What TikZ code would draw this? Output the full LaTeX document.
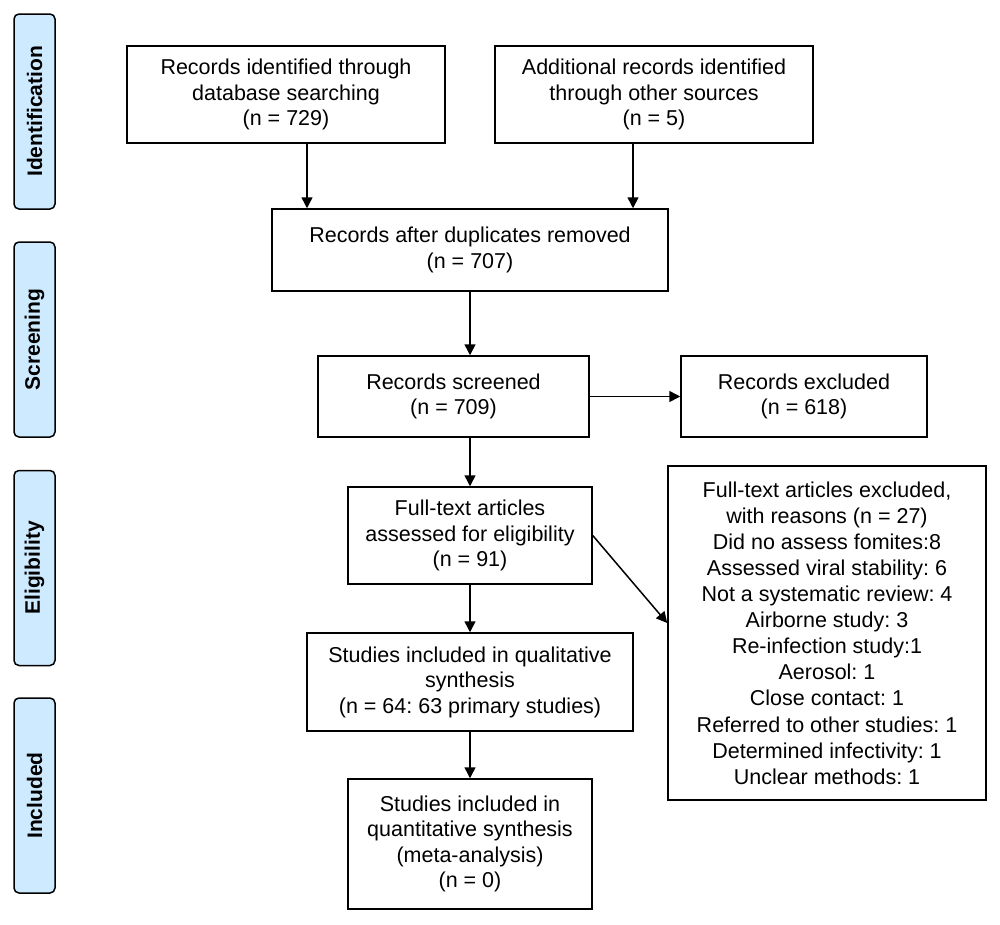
\documentclass[tikz,border=0pt]{standalone}
\usepackage{fontspec}
\setmainfont{Liberation Sans}
\usetikzlibrary{arrows.meta}
\definecolor{phasecol}{RGB}{206,234,255}
\frenchspacing
\begin{document}
\begin{tikzpicture}[x=1pt,y=-1pt,
  box/.style={draw, line width=1.5pt, align=center, inner sep=0pt,
    font=\fontsize{21.5}{25.5}\selectfont},
  phasebox/.style={draw, fill=phasecol, rounded corners=5pt, line width=1.5pt,
    rotate=90, minimum width=195pt, minimum height=41pt, inner sep=0pt,
    font=\fontsize{21}{25}\selectfont\bfseries},
  arr/.style={line width=1.5pt, -{Triangle[length=11pt,width=11pt]}}]
\useasboundingbox (0,0) rectangle (1000,924);

% phase labels
\node[phasebox] (p1) at (34.5,111.5) {Identification};
\node[phasebox] (p2) at (34.5,339.5) {Screening};
\node[phasebox] (p3) at (34.5,568) {Eligibility};
\node[phasebox] (p4) at (34.5,795.5) {Included};

% boxes
\node[box, minimum width=318pt, minimum height=97pt] (b1) at (286,94.5)
  {Records identified through\\database searching\\(n = 729)};
\node[box, minimum width=318pt, minimum height=97pt] (b2) at (654,94.5)
  {Additional records identified\\through other sources\\(n = 5)};
\node[box, minimum width=396pt, minimum height=82pt] (b3) at (470,250)
  {Records after duplicates removed\\(n = 707)};
\node[box, minimum width=271pt, minimum height=81pt] (b4) at (453.5,396.5)
  {Records screened\\(n = 709)};
\node[box, minimum width=246pt, minimum height=81pt] (b5) at (804,396.5)
  {Records excluded\\(n = 618)};
\node[box, minimum width=318pt, minimum height=334pt,
  font=\fontsize{21.5}{26.1}\selectfont] (b6) at (827,633)
  {Full-text articles excluded,\\with reasons (n = 27)\\Did no assess fomites:8\\Assessed viral stability: 6\\Not a systematic review: 4\\Airborne study: 3\\Re-infection study:1\\Aerosol: 1\\Close contact: 1\\Referred to other studies: 1\\Determined infectivity: 1\\Unclear methods: 1};
\node[box, minimum width=244pt, minimum height=97pt] (b7) at (470,535.5)
  {Full-text articles\\assessed for eligibility\\(n = 91)};
\node[box, minimum width=326pt, minimum height=98pt] (b8) at (470,682)
  {Studies included in qualitative\\synthesis\\(n = 64: 63 primary studies)};
\node[box, minimum width=244pt, minimum height=130pt] (b9) at (470,844)
  {Studies included in\\quantitative synthesis\\(meta-analysis)\\(n = 0)};

% connectors
\draw[arr] ([xshift=21pt]b1.south) -- ([xshift=21pt]b1.south |- b3.north);
\draw[arr] ([xshift=-21pt]b2.south) -- ([xshift=-21pt]b2.south |- b3.north);
\draw[arr] (b3.south) -- (b3.south |- b4.north);
\draw[arr] (b4.east) -- (b5.west);
\draw[arr] (b4.south -| b7.north) -- (b7.north);
\draw[arr] (b7.east) -- ([yshift=10pt]b6.west);
\draw[arr] (b7.south) -- (b8.north);
\draw[arr] (b8.south) -- (b9.north);
\end{tikzpicture}
\end{document}
